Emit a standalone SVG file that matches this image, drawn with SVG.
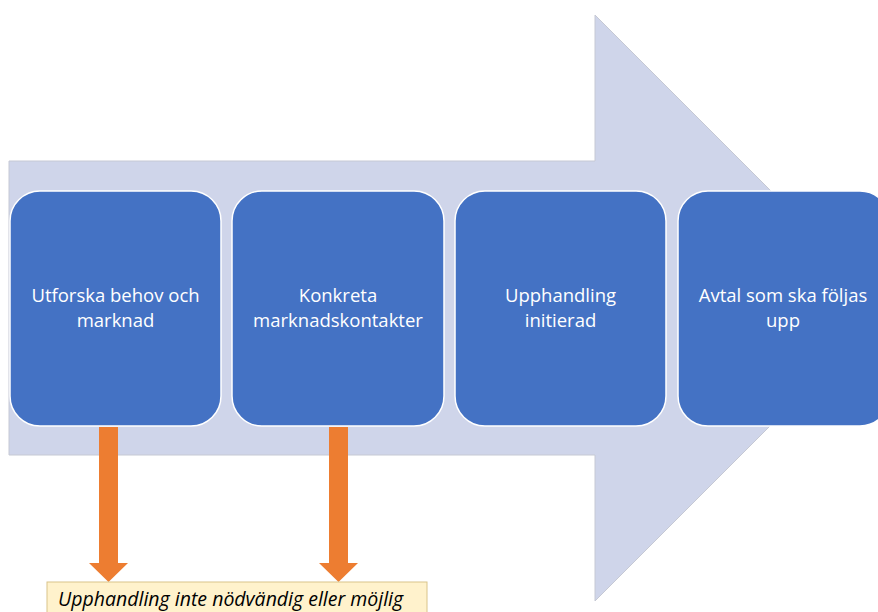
<svg xmlns="http://www.w3.org/2000/svg" width="878" height="612" viewBox="0 0 878 612">
  <style>
    .step rect { fill: #4472C4; stroke: #ffffff; stroke-width: 1.5; }
    .step text { fill: #ffffff; font-family: "Open Sans", "Liberation Sans", sans-serif; font-size: 18.5px; text-anchor: middle; }
    .down { fill: #ED7D31; }
    .note rect { fill: #FFF2CC; stroke: #D9C48A; stroke-width: 1; }
    .note text { fill: #000000; font-family: "Open Sans", "Liberation Sans", sans-serif; font-size: 19.5px; font-style: italic; }
  </style>
  <rect width="878" height="612" fill="#ffffff"/>

  <!-- background process arrow -->
  <g id="process-arrow">
    <polygon points="9,161 595,161 595,15 888,308 595,601 595,455 9,455" fill="#CFD5EA" stroke="#C6C9D4" stroke-width="1"/>
  </g>

  <!-- steps -->
  <g id="step1" class="step">
    <rect x="10" y="191" width="211" height="235" rx="30" ry="30"/>
    <text x="115.5" y="302">Utforska behov och</text>
    <text x="115.5" y="327">marknad</text>
  </g>
  <g id="step2" class="step">
    <rect x="232" y="191" width="212" height="235" rx="30" ry="30"/>
    <text x="338" y="302">Konkreta</text>
    <text x="338" y="327">marknadskontakter</text>
  </g>
  <g id="step3" class="step">
    <rect x="455" y="191" width="211" height="235" rx="30" ry="30"/>
    <text x="560.5" y="302">Upphandling</text>
    <text x="560.5" y="327">initierad</text>
  </g>
  <g id="step4" class="step">
    <rect x="678" y="191" width="212" height="235" rx="30" ry="30"/>
    <text x="783" y="302">Avtal som ska följas</text>
    <text x="783" y="327">upp</text>
  </g>

  <!-- connectors -->
  <g id="connectors">
    <polygon class="down" points="99,427 118,427 118,563 128,563 108.5,582 89,563 99,563"/>
    <polygon class="down" points="329,427 348,427 348,563 358,563 338.5,582 319,563 329,563"/>
  </g>

  <!-- note -->
  <g id="note" class="note">
    <rect x="47" y="582" width="380" height="40"/>
    <text x="58" y="606">Upphandling inte nödvändig eller möjlig</text>
  </g>
</svg>
